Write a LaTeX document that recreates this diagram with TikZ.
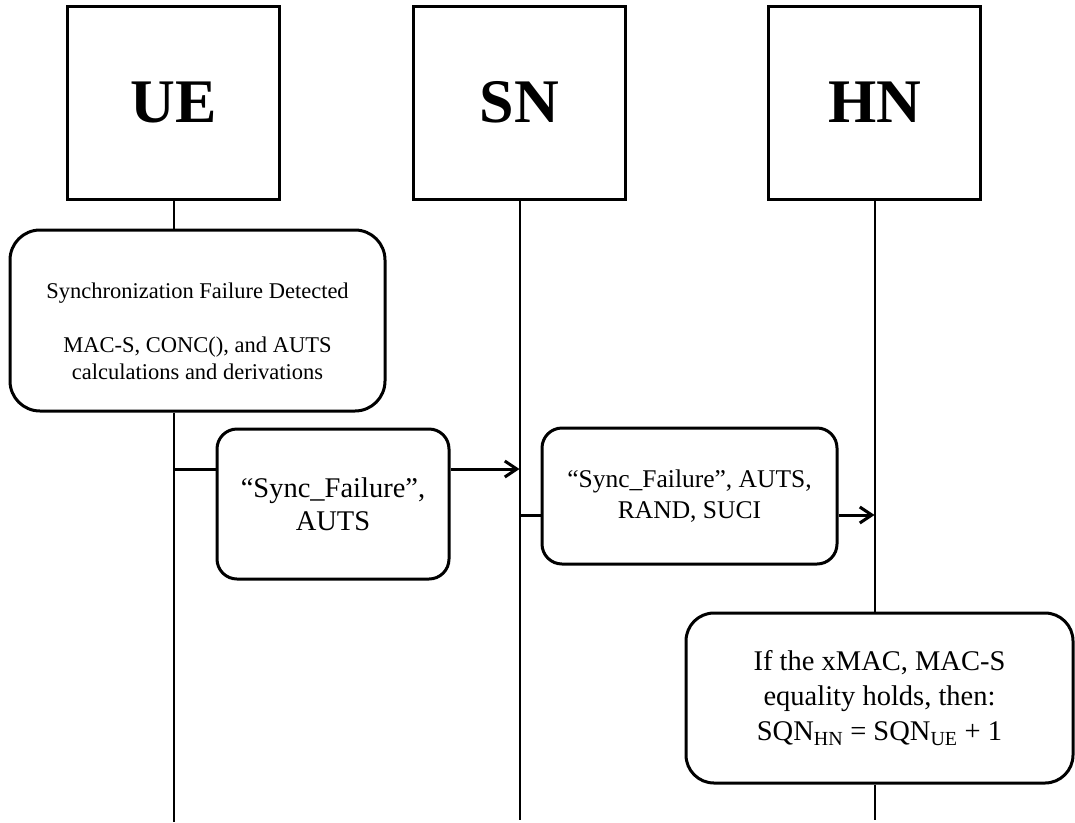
\documentclass[tikz,border=0pt]{standalone}
\usepackage{fontspec}
\setmainfont{Liberation Serif}
\usetikzlibrary{arrows.meta}
\begin{document}
\begin{tikzpicture}[x=1pt,y=1pt,
  head/.style={draw, line width=3pt, minimum width=212pt, minimum height=193pt, inner sep=0pt, font=\fontsize{62}{70}\selectfont\bfseries},
  rbox/.style={draw, line width=3pt, rounded corners=#1, inner sep=0pt, align=center},
  plaintext/.style={align=center, inner sep=0pt},
  life/.style={line width=2pt},
  msgline/.style={line width=3pt},
  msgarrow/.style={line width=3pt, -{Straight Barb[length=12pt,width=16pt]}}
]
\useasboundingbox (0,0) rectangle (1075,-822);
\coordinate (bot) at (0,-822);
\coordinate (bot2) at (0,-820);

\node[head] (ue) at (173.5,-102.5) {UE};
\node[head] (sn) at (519.5,-102.5) {SN};
\node[head] (hn) at (874.5,-102.5) {HN};

\node[rbox=30pt, minimum width=375pt, minimum height=181pt] (act1) at (197.5,-320.5) {};
\node[plaintext, font=\fontsize{22.5}{27}\selectfont] (act1t) at (197.5,-331) {Synchronization Failure Detected\\[27pt]MAC-S, CONC(), and AUTS\\calculations and derivations};

\node[rbox=20pt, minimum width=232pt, minimum height=150pt, font=\fontsize{28.5}{33.5}\selectfont] (m1) at (333,-504) {“Sync\_Failure”,\\AUTS};

\node[rbox=20pt, minimum width=295pt, minimum height=136pt, font=\fontsize{25.5}{31}\selectfont] (m2) at (689.5,-496) {“Sync\_Failure”, AUTS,\\RAND, SUCI};

\node[rbox=28pt, minimum width=387pt, minimum height=170pt, font=\fontsize{28.5}{35}\selectfont] (act2) at (879.5,-698) {If the xMAC, MAC-S\\equality holds, then:\\SQN\textsubscript{HN} = SQN\textsubscript{UE} + 1};

\draw[life] (ue.south) -- (ue.south |- act1.north);
\draw[life] (ue.south |- act1.south) -- (ue.south |- bot);
\draw[life] (sn.south) -- (sn.south |- bot2);
\draw[life] (hn.south) -- (hn.south |- act2.north);
\draw[life] (hn.south |- act2.south) -- (hn.south |- bot2);

\coordinate (y1) at (0,-469);
\draw[msgline] (ue.south |- y1) -- (m1.west |- y1);
\draw[msgarrow] (m1.east |- y1) -- (sn.south |- y1);

\coordinate (y2) at (0,-515);
\draw[msgline] (sn.south |- y2) -- (m2.west |- y2);
\draw[msgarrow] (m2.east |- y2) -- (hn.south |- y2);
\end{tikzpicture}
\end{document}
